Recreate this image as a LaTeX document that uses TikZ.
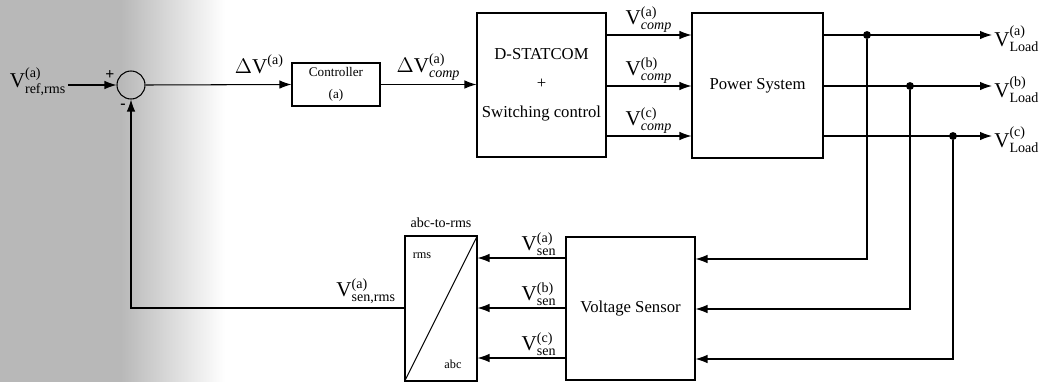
\documentclass[tikz,border=0pt]{standalone}
\usepackage{amsmath}
\usepackage[no-math]{fontspec}
\setmainfont{Liberation Serif}
\usetikzlibrary{arrows.meta, calc}

\newcommand{\vlab}[3]{$\text{#1}^{\text{(#2)}}_{\text{#3}}$}

\begin{document}
\begin{tikzpicture}[x=0.02cm, y=-0.02cm, line width=0.6pt,
  blk/.style={draw, rectangle, inner sep=0pt},
  sig/.style={-{Latex[length=2.4mm,width=1.7mm]}},
  lab/.style={font=\fontsize{12}{13}\selectfont, inner sep=1pt},
  dot/.style={circle, fill, inner sep=0pt, minimum size=4.5pt}]
  \useasboundingbox (0,0) rectangle (1042,382);
  % scanned grey margin
  \fill[black!28] (0,0) rectangle (120,382);
  \shade[left color=black!28, right color=white] (120,0) rectangle (225,382);

  % blocks
  \node[circle, draw, minimum size=0.56cm, inner sep=0pt] (sum) at (131,85) {};
  \node[font=\bfseries\fontsize{9}{9}\selectfont, inner sep=0pt] (plus) at (110,75) {+};
  \node[font=\bfseries\fontsize{9}{9}\selectfont, inner sep=0pt] (minus) at (123,106) {-};
  \node[blk, minimum width=1.76cm, minimum height=0.86cm, align=center,
        font=\fontsize{7.5}{12.5}\selectfont] (ctrl) at (336,84.5) {Controller\\(a)};
  \node[blk, minimum width=2.58cm, minimum height=2.88cm, align=center,
        font=\fontsize{9.5}{16.5}\selectfont] (dst) at (541.5,85) {D-STATCOM\\+\\Switching control};
  \node[blk, minimum width=2.62cm, minimum height=2.9cm,
        font=\fontsize{9.5}{11}\selectfont] (ps) at (757.5,85.5) {Power System};
  \node[blk, minimum width=2.58cm, minimum height=2.86cm,
        font=\fontsize{9.5}{11}\selectfont] (vs) at (630.5,308.5) {Voltage Sensor};
  \node[blk, minimum width=1.44cm, minimum height=2.9cm] (conv) at (441,308.5) {};
  \draw (conv.south west) -- (conv.north east);
  \node[font=\fontsize{7}{8}\selectfont, inner sep=0pt] (rmsl) at (422,256) {rms};
  \node[font=\fontsize{7}{8}\selectfont, inner sep=0pt] (abcl) at (453,364) {abc};
  \node[font=\fontsize{8}{9}\selectfont, inner sep=0pt] (convl) at (441,223) {abc-to-rms};

  % reference and error path
  \node[lab] (vref) at (38,82) {\vlab{V}{a}{ref,rms}};
  \draw[sig] (vref.east |- sum) -- (sum.west);
  \draw[sig] (sum.east) -- (ctrl.west)
    node[lab, pos=0.78, above=2pt] {\vlab{$\Delta$V}{a}{}};
  \draw[sig] (ctrl.east) -- (dst.west |- ctrl.east)
    node[lab, midway, above=1pt] {\vlab{$\Delta$V}{a}{\textit{comp}}};

  % three phases
  \foreach \ph/\yy/\jx [count=\i] in {a/35/867, b/86/910, c/136/953} {
    \draw[sig] (dst.east |- 0,\yy) -- (ps.west |- 0,\yy)
      node[lab, midway, above=0pt] {\vlab{V}{\ph}{\textit{comp}}};
    \node[lab, anchor=west] (load\ph) at (992,\yy+4) {\vlab{V}{\ph}{Load}};
    \node[dot] (j\ph) at (\jx,\yy) {};
    \draw[sig] (ps.east |- 0,\yy) -- (load\ph.west |- 0,\yy);
    \draw[sig] (j\ph) |- (vs.east |- 0,209+50*\i);
    \draw[sig] (vs.west |- 0,208+50*\i) -- (conv.east |- 0,208+50*\i)
      node[lab, pos=0.3, above=0pt] {\vlab{V}{\ph}{sen}};
  }

  % feedback
  \draw[sig] (conv.west |- 0,308) -| (sum.south)
    node[lab, pos=0.07, above=1pt] {\vlab{V}{a}{sen,rms}};
\end{tikzpicture}
\end{document}
